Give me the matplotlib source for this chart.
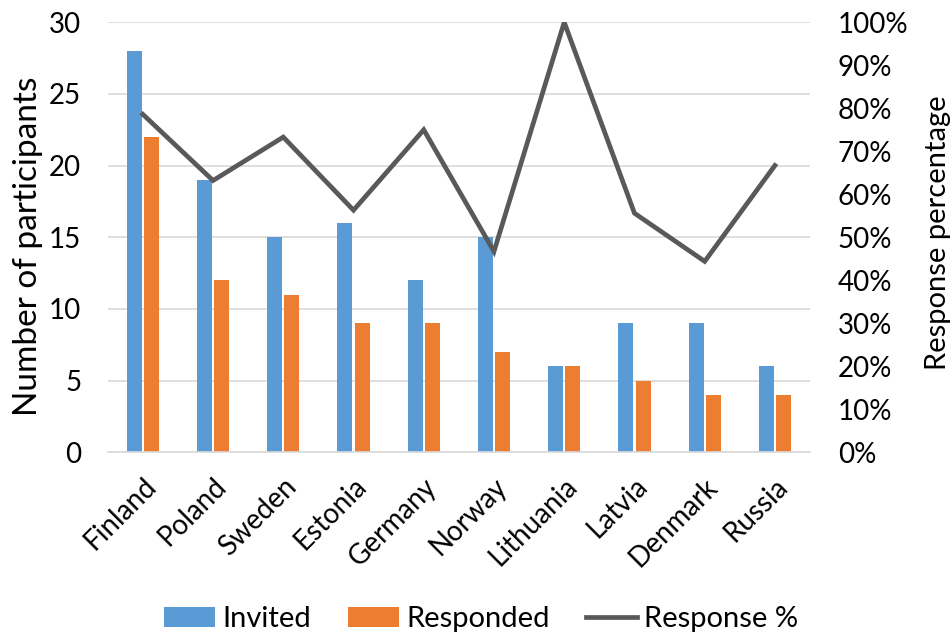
import matplotlib.pyplot as plt
import numpy as np
from matplotlib.ticker import PercentFormatter

plt.rcParams['font.family'] = ['Lato', 'DejaVu Sans']

countries = ['Finland', 'Poland', 'Sweden', 'Estonia', 'Germany',
             'Norway', 'Lithuania', 'Latvia', 'Denmark', 'Russia']
invited = [28, 19, 15, 16, 12, 15, 6, 9, 9, 6]
responded = [22, 12, 11, 9, 9, 7, 6, 5, 4, 4]
response_pct = [78.6, 63.2, 73.3, 56.3, 75.0, 46.7, 100.0, 55.6, 44.4, 66.7]

BLUE = '#5B9BD5'
ORANGE = '#ED7D31'
GREY = '#595959'
GRID = '#D9D9D9'
FS = 20

fig = plt.figure(figsize=(9.53, 6.37), dpi=100)
ax = fig.add_axes([0.113, 0.29, 0.737, 0.675])
ax2 = ax.twinx()

x = np.arange(len(countries))
w = 0.215
gap = 0.03
ax.bar(x - w / 2 - gap / 2, invited, w, color=BLUE, label='Invited', zorder=2)
ax.bar(x + w / 2 + gap / 2, responded, w, color=ORANGE, label='Responded', zorder=2)
ax2.plot(x, response_pct, color=GREY, lw=3.4, label='Response %', solid_joinstyle='miter')

ax.set_xlim(-0.5, len(countries) - 0.5)
ax.set_ylim(0, 30)
ax.set_yticks(range(0, 31, 5))
ax2.set_ylim(0, 100)
ax2.set_yticks(range(0, 101, 10))
ax2.yaxis.set_major_formatter(PercentFormatter(decimals=0))

ax.grid(axis='y', color=GRID, lw=1.2, zorder=0)
ax.set_axisbelow(True)
for a in (ax, ax2):
    for s in a.spines.values():
        s.set_visible(False)
    a.tick_params(length=0, labelsize=FS, colors='#000000')
ax.spines['bottom'].set_visible(True)
ax.spines['bottom'].set_color(GRID)
ax.spines['bottom'].set_linewidth(1.2)
ax.tick_params(axis='y', pad=19)
ax2.tick_params(axis='y', pad=20)

ax.set_xticks(x)
ax.set_xticklabels(countries, rotation=45, ha='right', rotation_mode='anchor')
ax.tick_params(axis='x', pad=15)

# axis titles placed by hand so the right one stays inside the figure
ax.set_ylabel('Number of participants', fontsize=24)
ax2.set_ylabel('Response percentage', fontsize=21)
ax.yaxis.label.set_va('center')
ax2.yaxis.label.set_va('center')
ax.yaxis.set_label_coords(-0.113, 0.48)
ax2.yaxis.set_label_coords(1.182, 0.51)

handles = ax.get_legend_handles_labels()[0] + ax2.get_legend_handles_labels()[0]
labels = ['Invited', 'Responded', 'Response %']
fig.legend(handles, labels, loc='lower center', bbox_to_anchor=(0.505, -0.034),
           ncol=3, frameon=False, fontsize=21, handlelength=1.75,
           handleheight=0.65, columnspacing=1.25, handletextpad=0.25)

fig.savefig('out.png', dpi=100)
